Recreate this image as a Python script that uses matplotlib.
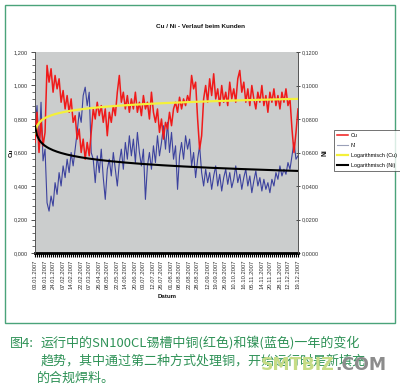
import numpy as np
import matplotlib
matplotlib.use("Agg")
import matplotlib.pyplot as plt
from matplotlib.patches import Rectangle
from matplotlib.ticker import FixedLocator, MultipleLocator, FuncFormatter

plt.rcParams['font.family'] = ['Liberation Sans', 'DejaVu Sans']

title = "Cu / Ni - Verlauf beim Kunden"

date_labels = ["03.01.2007", "09.01.2007", "24.01.2007", "07.02.2007", "14.02.2007",
               "22.02.2007", "07.03.2007", "26.04.2007", "08.05.2007", "22.05.2007",
               "14.06.2007", "20.06.2007", "03.07.2007", "12.07.2007", "26.07.2007",
               "01.08.2007", "08.08.2007", "22.08.2007", "28.08.2007", "12.09.2007",
               "19.09.2007", "26.09.2007", "10.10.2007", "16.10.2007", "05.11.2007",
               "14.11.2007", "20.11.2007", "28.11.2007", "12.12.2007", "19.12.2007"]

cu = [0.66, 0.84, 0.60, 0.80, 0.64, 0.72, 1.12, 1.02, 1.10, 0.96,
      1.06, 0.98, 1.04, 0.90, 0.97, 0.86, 0.94, 0.84, 0.92, 0.78,
      0.82, 0.68, 0.74, 0.60, 0.68, 0.56, 0.66, 0.58, 0.72, 0.86,
      0.80, 0.90, 0.82, 0.88, 0.78, 0.86, 0.70, 0.84, 0.78, 0.88,
      0.82, 0.96, 1.06, 0.90, 0.96, 0.86, 0.94, 0.84, 0.92, 0.86,
      0.96, 0.84, 0.90, 0.82, 0.94, 0.86, 0.90, 0.80, 0.96, 0.84,
      0.78, 0.86, 0.72, 0.80, 0.68, 0.78, 0.74, 0.84, 0.76, 0.86,
      0.90, 0.84, 0.93, 0.86, 0.92, 0.88, 0.94, 0.90, 1.06, 0.98,
      1.02, 0.80, 0.62, 0.70, 0.92, 1.00, 0.90, 1.04, 0.94, 1.07,
      0.92, 0.98, 0.88, 1.00, 0.90, 0.96, 0.88, 1.02, 0.92, 0.98,
      0.90, 1.04, 1.09, 0.96, 1.02, 0.90, 0.98, 0.88, 1.00, 0.92,
      0.86, 0.96, 0.90, 1.00, 0.88, 0.94, 0.84, 0.96, 0.90, 0.98,
      0.88, 0.94, 0.86, 0.96, 0.90, 0.98, 0.88, 0.92, 0.74, 0.60,
      0.72, 0.86]

ni = [0.074, 0.088, 0.062, 0.090, 0.055, 0.062, 0.030, 0.025, 0.034, 0.028,
      0.042, 0.035, 0.048, 0.040, 0.052, 0.045, 0.056, 0.048, 0.060, 0.052,
      0.062, 0.072, 0.084, 0.078, 0.094, 0.099, 0.088, 0.096, 0.060, 0.056,
      0.042, 0.058, 0.048, 0.062, 0.045, 0.032, 0.050, 0.056, 0.046, 0.060,
      0.050, 0.040, 0.054, 0.062, 0.050, 0.066, 0.056, 0.070, 0.058, 0.068,
      0.054, 0.072, 0.060, 0.052, 0.062, 0.032, 0.052, 0.060, 0.050, 0.064,
      0.054, 0.070, 0.058, 0.066, 0.076, 0.062, 0.078, 0.060, 0.072, 0.056,
      0.064, 0.038, 0.058, 0.066, 0.056, 0.070, 0.062, 0.068, 0.052, 0.060,
      0.045, 0.056, 0.064, 0.048, 0.040, 0.050, 0.042, 0.048, 0.038, 0.046,
      0.052, 0.040, 0.047, 0.037, 0.045, 0.050, 0.041, 0.048, 0.039, 0.044,
      0.052, 0.042, 0.047, 0.038, 0.045, 0.050, 0.040, 0.046, 0.036, 0.043,
      0.049, 0.040, 0.045, 0.037, 0.044, 0.038, 0.042, 0.036, 0.044, 0.040,
      0.048, 0.044, 0.052, 0.046, 0.050, 0.047, 0.054, 0.050, 0.058, 0.066,
      0.056, 0.058]

# logarithmic trendlines (Excel style y = a + b*ln(x), x = sample number 1..n_samples),
# coefficients
n_samples = 300
cu_trend_coef = [0.715, 0.036]
ni_trend_coef = [0.0758, -0.0047]

legend_labels = ["Cu", "Ni", "Logarithmisch (Cu)", "Logarithmisch (Ni)"]

caption_head = "图4:"
caption_lines = ["运行中的SN100CL锡槽中铜(红色)和镍(蓝色)一年的变化",
                 "趋势，其中通过第二种方式处理铜，开始运行时是新填充",
                 "的合规焊料。"]

watermark = ["SMTBIZ", ".COM"]

# ---------------------------------------------------------------
W, H = 400, 385
fig = plt.figure(figsize=(W / 100, H / 100), dpi=100)
fig.patch.set_facecolor("white")

def fx(px):
    return px / W

def fy(py):
    return 1 - py / H

fig.patches.append(Rectangle((fx(5), fy(323)), fx(395) - fx(5), fy(5) - fy(323),
                             transform=fig.transFigure, fill=False,
                             edgecolor="#4aa37a", linewidth=1.0, zorder=0))

ax2 = fig.add_axes([fx(35), fy(253), fx(298) - fx(35), fy(52) - fy(253)])
ax2.set_facecolor("#cbcdcd")
ax = ax2.twinx()  # Cu axis drawn on top

n = len(cu)
idx = np.arange(n)
xcat = 1 + idx * (n_samples - 1) / (n - 1)
ln = np.log(xcat)

cu_a = np.array(cu)
ni_a = np.array(ni)
cu_tr = cu_trend_coef[0] + cu_trend_coef[1] * ln
ni_tr = ni_trend_coef[0] + ni_trend_coef[1] * ln

l_ni, = ax2.plot(idx, ni_a, color="#3c429e", lw=0.8, zorder=2)
l_cu, = ax.plot(idx, cu_a, color="#f01a1a", lw=1.1, zorder=3)
l_cut, = ax.plot(idx, cu_tr, color="#f4f03a", lw=1.6, zorder=4)
# Ni trend drawn on the Cu axis (x10 scale ratio) so it sits on top
l_nit, = ax.plot(idx, ni_tr * 10, color="black", lw=1.5, zorder=5)

for a in (ax, ax2):
    a.set_xlim(0, n - 1)
ax.set_ylim(0, 1.2)
ax2.set_ylim(0, 0.12)

ax.yaxis.tick_left()
ax.yaxis.set_label_position("left")
ax2.yaxis.tick_right()

ax.yaxis.set_major_locator(MultipleLocator(0.2))
ax.yaxis.set_minor_locator(MultipleLocator(0.04))
ax.yaxis.set_major_formatter(FuncFormatter(lambda v, p: f"{v:.3f}".replace(".", ",")))
ax2.yaxis.set_major_locator(MultipleLocator(0.02))
ax2.yaxis.set_major_formatter(FuncFormatter(lambda v, p: f"{v:.4f}".replace(".", ",")))

pos = [round(k * (n - 1) / (len(date_labels) - 1)) for k in range(len(date_labels))]
ax2.xaxis.set_major_locator(FixedLocator(pos))
ax2.set_xticklabels(date_labels, rotation=90, fontsize=4.2, color="#333333")
ax2.xaxis.set_minor_locator(FixedLocator(idx))
ax2.tick_params(axis="x", which="both", length=3, width=0.8, color="black", pad=2)
ax.tick_params(axis="y", which="major", length=3, width=0.6, labelsize=4.1,
               colors="#333333", pad=2)
ax.tick_params(axis="y", which="minor", length=2, width=0.5, color="#333333")
ax2.tick_params(axis="y", which="major", length=3, width=0.6, labelsize=3.9,
                colors="#333333", pad=1.5, direction="inout")

for a in (ax, ax2):
    a.spines["top"].set_visible(False)
    a.spines["left"].set_color("#555555")
    a.spines["right"].set_color("#555555")
    a.spines["left"].set_linewidth(0.6)
    a.spines["right"].set_linewidth(0.6)
ax2.spines["bottom"].set_linewidth(2.0)
ax2.spines["bottom"].set_color("black")
ax.spines["bottom"].set_visible(False)

fig.text(fx(200), fy(27), title, ha="center", va="center", fontsize=4.6,
         fontweight="bold", color="#111111")
fig.text(fx(11), fy(153), "Cu", ha="center", va="center", rotation=90,
         fontsize=4.6, fontweight="bold", color="#111111")
fig.text(fx(325), fy(153), "Ni", ha="center", va="center", rotation=90,
         fontsize=4.8, fontweight="bold", color="#111111")
fig.text(fx(167), fy(297), "Datum", ha="center", va="center",
         fontsize=4.4, fontweight="bold", color="#111111")

leg = fig.legend([l_cu, l_ni, l_cut, l_nit], legend_labels,
                 loc="upper left", bbox_to_anchor=(fx(334), fy(130)),
                 fontsize=3.9, frameon=True, fancybox=False, handlelength=2.0,
                 handletextpad=0.5, labelspacing=0.9, borderpad=0.6,
                 borderaxespad=0)
leg.get_frame().set_edgecolor("#333333")
leg.get_frame().set_linewidth(0.6)
leg.legend_handles[1].set_color("#9aa0b8")

cap_color = "#2f9257"
cjk = ['Noto Sans CJK SC', 'DejaVu Sans']
fig.text(fx(10), fy(343), caption_head, ha="left", va="center", fontsize=9.4,
         color=cap_color, family=cjk)
fig.text(fx(41), fy(343), caption_lines[0], ha="left", va="center", fontsize=9.4,
         color=cap_color, family=cjk)
fig.text(fx(41), fy(361), caption_lines[1], ha="left", va="center", fontsize=9.4,
         color=cap_color, family=cjk)
fig.text(fx(37), fy(378), caption_lines[2], ha="left", va="center", fontsize=9.4,
         color=cap_color, family=cjk)

fig.text(fx(335), fy(365), watermark[0], ha="right", va="center", fontsize=12.4,
         fontweight="bold", color="#c6dc86", family="DejaVu Sans")
fig.text(fx(335), fy(365), watermark[1], ha="left", va="center", fontsize=12.4,
         fontweight="bold", color="#8c8c8c", family="DejaVu Sans")

fig.savefig("out.png", dpi=100)
